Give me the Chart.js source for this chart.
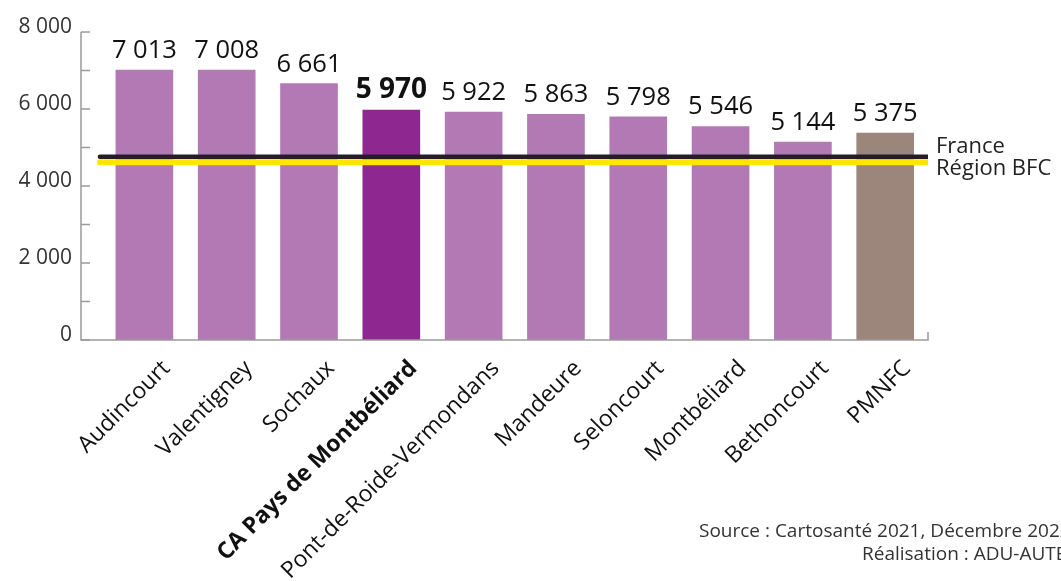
<!DOCTYPE html>
<html>
<head>
<meta charset="utf-8">
<script src="https://cdn.jsdelivr.net/npm/chart.js@4"></script>
<style>
  html, body { margin: 0; padding: 0; background: #fff; }
  #wrap { width: 1061px; height: 581px; position: relative; }
</style>
</head>
<body>
<div id="wrap"><canvas id="chart"></canvas></div>
<script>
// Données du graphique
const communes = ['Audincourt', 'Valentigney', 'Sochaux', 'CA Pays de Montbéliard',
  'Pont-de-Roide-Vermondans', 'Mandeure', 'Seloncourt', 'Montbéliard', 'Bethoncourt', 'PMNFC'];
const valeurs = [7013, 7008, 6661, 5970, 5922, 5863, 5798, 5546, 5144, 5375];
const couleurs = ['#b279b4', '#b279b4', '#b279b4', '#8e278f', '#b279b4',
  '#b279b4', '#b279b4', '#b279b4', '#b279b4', '#9c857a'];
const yTicks = [0, 2000, 4000, 6000, 8000];
const refFrance = 4760;
const refBFC = 4620;
const INDEX_EN_GRAS = 3;

// bornes de l'axe x (en index de catégorie)
const X_MIN = -0.77;
const X_MAX = 9.52;
const LIGNE_DEBUT = -0.54;

const police = '"Open Sans", "Noto Sans", sans-serif';

function formatNombre(v) {
  return String(v).replace(/\B(?=(\d{3})+(?!\d))/g, ' ');
}

// Plugin : étiquettes, axes dessinés à la main, source
const decor = {
  id: 'decor',
  afterDatasetsDraw(chart) {
    const ctx = chart.ctx;
    const area = chart.chartArea;
    const y = chart.scales.y;
    ctx.save();

    // axes
    ctx.strokeStyle = '#9a9a9a';
    ctx.lineWidth = 1.5;
    ctx.beginPath();
    ctx.moveTo(area.left, area.top);
    ctx.lineTo(area.left, area.bottom);
    ctx.lineTo(area.right, area.bottom);
    ctx.lineTo(area.right, area.bottom - 8);
    ctx.stroke();
    for (let v = 0; v <= 8000; v += 1000) {
      const py = y.getPixelForValue(v);
      ctx.beginPath();
      ctx.moveTo(area.left, py);
      ctx.lineTo(area.left + 9, py);
      ctx.stroke();
    }

    // valeurs au-dessus des barres
    const meta = chart.getDatasetMeta(2);
    ctx.fillStyle = '#111';
    ctx.textAlign = 'center';
    ctx.textBaseline = 'alphabetic';
    meta.data.forEach((bar, i) => {
      ctx.font = i === INDEX_EN_GRAS ? 'bold 28px ' + police : '25.5px ' + police;
      ctx.fillText(formatNombre(valeurs[i]), bar.x, bar.y - 12);
    });

    // légende des lignes de référence
    ctx.fillStyle = '#222';
    ctx.textAlign = 'left';
    ctx.font = '22px ' + police;
    ctx.fillText('France', area.right + 8, y.getPixelForValue(refFrance) - 4);
    ctx.fillText('Région BFC', area.right + 8, y.getPixelForValue(refBFC) + 13);

    // source
    ctx.fillStyle = '#333';
    ctx.font = '19px ' + police;
    ctx.fillText('Source : Cartosanté 2021, Décembre 2022', 699, 537);
    ctx.fillText('Réalisation : ADU-AUTEC', 862, 560);
    ctx.restore();
  }
};

const ctx = document.getElementById('chart').getContext('2d');
new Chart(ctx, {
  data: {
    datasets: [
      {
        type: 'line',
        label: 'France',
        data: [{ x: LIGNE_DEBUT, y: refFrance }, { x: X_MAX, y: refFrance }],
        borderColor: '#231f20',
        borderWidth: 4.5,
        pointRadius: 0,
        borderCapStyle: 'round',
        order: 1
      },
      {
        type: 'line',
        label: 'Région BFC',
        data: [{ x: LIGNE_DEBUT, y: refBFC }, { x: X_MAX, y: refBFC }],
        borderColor: '#ffe600',
        borderWidth: 6,
        pointRadius: 0,
        borderCapStyle: 'round',
        order: 2
      },
      {
        type: 'bar',
        label: 'Valeurs',
        data: valeurs.map((v, i) => ({ x: i, y: v })),
        backgroundColor: couleurs,
        barThickness: 57,
        order: 3
      }
    ]
  },
  options: {
    responsive: true,
    maintainAspectRatio: false,
    animation: false,
    layout: { padding: { top: 32, right: 133, left: 0, bottom: 0 } },
    plugins: {
      legend: { display: false },
      tooltip: { enabled: false }
    },
    scales: {
      x: {
        type: 'linear',
        min: X_MIN,
        max: X_MAX,
        offset: false,
        grid: { display: false, drawTicks: false },
        border: { display: false },
        afterFit(scale) { scale.height = 241; },
        afterBuildTicks(scale) {
          scale.ticks = communes.map((c, i) => ({ value: i }));
        },
        ticks: {
          autoSkip: false,
          minRotation: 45,
          maxRotation: 45,
          padding: 15,
          labelOffset: 22,
          color: '#111',
          font: (c) => ({
            family: police,
            size: 23,
            weight: c.tick && c.tick.value === INDEX_EN_GRAS ? 'bold' : 'normal'
          }),
          callback: (v) => communes[v] ?? ''
        }
      },
      y: {
        min: 0,
        max: 8000,
        grid: { display: false, drawTicks: false },
        border: { display: false },
        afterFit(scale) { scale.width = 81; },
        afterBuildTicks(scale) {
          scale.ticks = yTicks.map(v => ({ value: v }));
        },
        ticks: {
          padding: 9,
          labelOffset: -5,
          color: '#333',
          font: { family: police, size: 21 },
          callback: (v) => formatNombre(v)
        }
      }
    }
  },
  plugins: [decor]
});
</script>
</body>
</html>
